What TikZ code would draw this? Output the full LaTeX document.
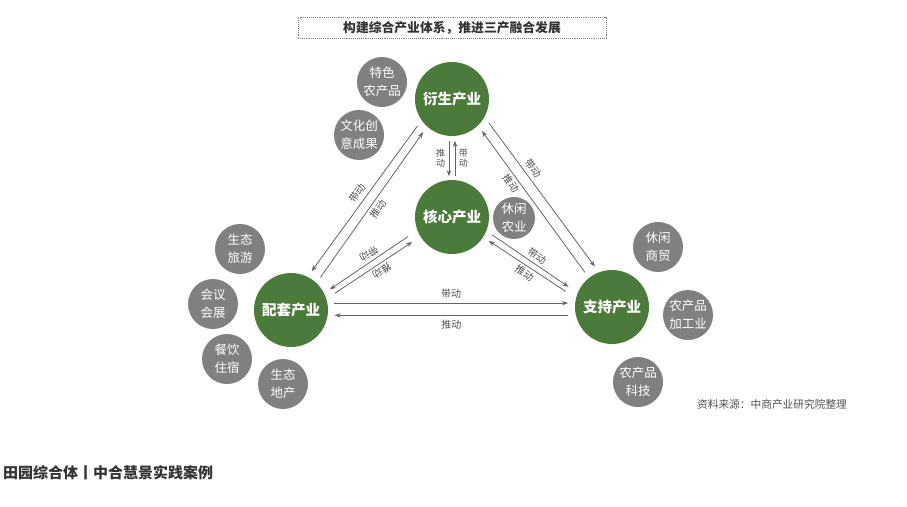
\documentclass[tikz,border=0pt]{standalone}
\usepackage{fontspec}
\setmainfont{Noto Sans CJK SC}
\usetikzlibrary{arrows.meta}
\definecolor{maingreen}{RGB}{75,123,58}
\definecolor{subgray}{RGB}{128,128,128}
\definecolor{linegray}{RGB}{100,100,100}
\definecolor{textgray}{RGB}{80,80,80}
\definecolor{titlegray}{RGB}{51,51,51}
\begin{document}
\begin{tikzpicture}[x=1pt, y=-1pt,
	>={Stealth[length=6pt,width=4.5pt]},
	main/.style={circle, fill=maingreen, text=white, minimum size=74pt, inner sep=0pt, outer sep=7pt, font=\fontsize{14.5}{16}\selectfont\bfseries},
	sub/.style={circle, fill=subgray, text=white, minimum size=50pt, inner sep=0pt, align=center, font=\fontsize{12.5}{18}\selectfont},
	arr/.style={draw=linegray, line width=0.8pt, ->},
	lbl/.style={text=textgray, inner sep=2.5pt, font=\fontsize{10}{10}\selectfont},
	titlebox/.style={draw=subgray, densely dotted, line width=0.9pt, minimum width=308pt, minimum height=21pt, inner sep=0pt, text=titlegray, font=\fontsize{12.8}{14}\selectfont\bfseries}]
	\useasboundingbox (0,0) rectangle (907,506);
	\node[titlebox] (title) at (452,27.5) {构建综合产业体系，推进三产融合发展};
	% four industries
	\node[main] (yan) at (452,99) {衍生产业};
	\node[main] (he) at (452,217) {核心产业};
	\node[main] (pei) at (291,310) {配套产业};
	\node[main] (zhi) at (612,307) {支持产业};
	% items round them
	\node[sub] (tese) at (382,82) {特色\\农产品};
	\node[sub] (wenhua) at (359,135) {文化创\\意成果};
	\node[sub, minimum size=42pt] (xiuxian) at (514,218) {休闲\\农业};
	\node[sub] (lvyou) at (240,249) {生态\\旅游};
	\node[sub] (huizhan) at (213,304) {会议\\会展};
	\node[sub] (canyin) at (227,359) {餐饮\\住宿};
	\node[sub] (dichan) at (283,384) {生态\\地产};
	\node[sub] (shangmao) at (658,247) {休闲\\商贸};
	\node[sub] (jiagong) at (688,315) {农产品\\加工业};
	\node[sub] (keji) at (638,382) {农产品\\科技};
	% arrows
	\draw[arr, shorten <=-2pt, shorten >=-3pt] (yan.266) -- node[lbl, left=1pt, align=center, font=\fontsize{9}{10}\selectfont] {推\\动} (he.94);
	\draw[arr, shorten <=-3pt, shorten >=-2pt] (he.86) -- node[lbl, right=1pt, align=center, font=\fontsize{9}{10}\selectfont] {带\\动} (yan.274);
	\draw[arr] (yan.218) -- node[lbl, sloped, above=1.5pt] {带动} (pei.62);
	\draw[arr] (pei.48) -- node[lbl, sloped, below] {推动} (yan.229);
	\draw[arr] (yan.327) -- node[lbl, sloped, above=1.5pt, pos=.35] {带动} (zhi.113);
	\draw[arr] (zhi.128) -- node[lbl, sloped, below, pos=.66] {推动} (yan.313);
	\draw[arr, shorten <=4pt] (he.203) -- node[lbl, sloped, allow upside down, below, pos=.47] {带动} (pei.28);
	\draw[arr, <-, shorten >=3pt, shorten <=3pt] (he.212) -- node[lbl, sloped, allow upside down, above, pos=.45] {推动} (pei.20);
	\draw[arr, shorten >=4pt] (he.336) -- node[lbl, sloped, above, pos=.51] {带动} (zhi.156);
	\draw[arr, shorten <=5pt] (zhi.163) -- node[lbl, sloped, below, pos=.51] {推动} (he.327);
	\draw[arr] (pei.9) -- node[lbl, above=1.5pt] {带动} (pei.9 -| zhi.west);
	\draw[arr] (pei.-7 -| zhi.west) -- node[lbl, below=1.5pt] {推动} (pei.-7);
	\node[text=textgray, font=\fontsize{10.7}{12}\selectfont] (source) at (772,404) {资料来源：中商产业研究院整理};
	\node[anchor=west, inner sep=0pt, text=titlegray, font=\fontsize{15}{16}\selectfont\bfseries] (footer) at (3,473) {田园综合体丨中合慧景实践案例};
\end{tikzpicture}
\end{document}
